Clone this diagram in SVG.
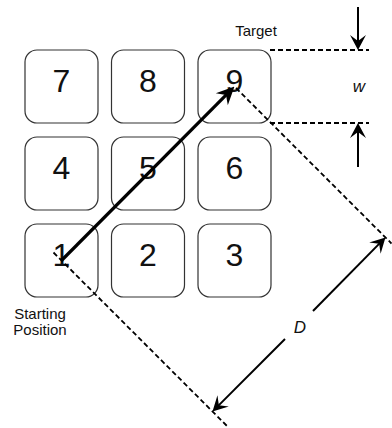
<svg xmlns="http://www.w3.org/2000/svg" width="392" height="428" viewBox="0 0 392 428">
<style>
.key{fill:#fff;stroke:#333;stroke-width:1.2}
.num{font-family:"Liberation Sans",Arial,sans-serif;font-size:32px;text-anchor:middle;fill:#111}
.lbl{font-family:"Liberation Sans",Arial,sans-serif;font-size:15px;text-anchor:middle;fill:#111}
.ital{font-family:"Liberation Sans",Arial,sans-serif;font-size:17px;font-style:italic;text-anchor:middle;fill:#111}
.dash{fill:none;stroke:#000;stroke-width:1.8;stroke-dasharray:5 3}
.hdash{fill:none;stroke:#000;stroke-width:2;stroke-dasharray:5 3}
.main{fill:none;stroke:#000;stroke-width:3.2;marker-end:url(#big)}
.dim{fill:none;stroke:#000;stroke-width:2;marker-end:url(#small)}
</style>
<defs>
<marker id="big" viewBox="-10 -10 20 20" refX="0" refY="0" markerWidth="20" markerHeight="20" markerUnits="userSpaceOnUse" orient="auto">
<path d="M10,0 L-8,-8.5 L-2,0 L-8,8.5 Z" fill="#000"/>
</marker>
<marker id="small" viewBox="-10 -10 20 20" refX="0" refY="0" markerWidth="20" markerHeight="20" markerUnits="userSpaceOnUse" orient="auto">
<path d="M8,0 L-7,-8 L-1,0 L-7,8 Z" fill="#000"/>
</marker>
</defs>
<g id="key7"><rect class="key" x="25" y="50" width="73" height="73" rx="12"/><text class="num" x="61.5" y="92">7</text></g>
<g id="key8"><rect class="key" x="111.5" y="50" width="73" height="73" rx="12"/><text class="num" x="148" y="92">8</text></g>
<g id="key9"><rect class="key" x="198" y="50" width="73" height="73" rx="12"/><text class="num" x="234.5" y="92">9</text></g>
<g id="key4"><rect class="key" x="25" y="137" width="73" height="73" rx="12"/><text class="num" x="61.5" y="179">4</text></g>
<g id="key5"><rect class="key" x="111.5" y="137" width="73" height="73" rx="12"/><text class="num" x="148" y="179">5</text></g>
<g id="key6"><rect class="key" x="198" y="137" width="73" height="73" rx="12"/><text class="num" x="234.5" y="179">6</text></g>
<g id="key1"><rect class="key" x="25" y="224" width="73" height="73" rx="12"/><text class="num" x="61.5" y="266">1</text></g>
<g id="key2"><rect class="key" x="111.5" y="224" width="73" height="73" rx="12"/><text class="num" x="148" y="266">2</text></g>
<g id="key3"><rect class="key" x="198" y="224" width="73" height="73" rx="12"/><text class="num" x="234.5" y="266">3</text></g>
<g id="labels">
<text class="lbl" x="256" y="36">Target</text>
<text class="lbl" x="40" y="319">Starting</text>
<text class="lbl" x="40" y="334.5">Position</text>
<text class="ital" x="359" y="92">w</text>
<text class="ital" x="300" y="333">D</text>
</g>
<g id="connectors">
<line class="hdash" x1="270" y1="50" x2="369" y2="50"/>
<line class="hdash" x1="270" y1="123" x2="369" y2="123"/>
<line class="dim" x1="358" y1="7" x2="358" y2="42"/>
<line class="dim" x1="358" y1="167" x2="358" y2="131"/>
<line class="dash" x1="53.5" y1="252.5" x2="228" y2="427"/>
<line class="dash" x1="236" y1="88" x2="391.5" y2="243.5"/>
<line class="main" x1="61.5" y1="260.5" x2="227.43" y2="93.57"/>
<line class="dim" x1="285" y1="339" x2="218.16" y2="405.84"/>
<line class="dim" x1="313" y1="311" x2="379.84" y2="243.16"/>
</g>
</svg>
